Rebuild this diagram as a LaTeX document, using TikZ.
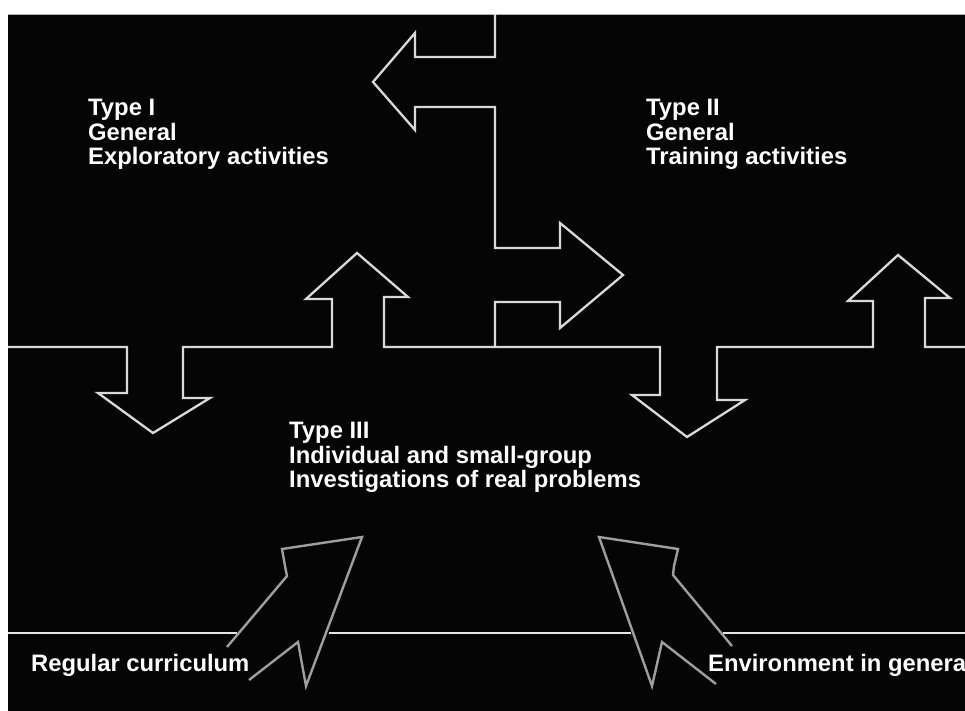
\documentclass[tikz,border=0pt]{standalone}
\usepackage{fontspec}
\setmainfont{Liberation Sans}
\begin{document}
\begin{tikzpicture}[x=1pt,y=-1pt,
  outline/.style={draw=black!15, line width=2.3pt, line join=miter},
  cursor/.style={draw=black!38, line width=2.4pt, line join=miter},
  rule/.style={draw=black!10, line width=1.8pt},
  label/.style={text=white, font=\bfseries\fontsize{23.8}{24.6}\selectfont,
                align=left, inner sep=0pt}]
  \useasboundingbox (0,0) rectangle (965,711);
  \clip (0,0) rectangle (965,711);
  % paper and dark panel
  \fill[white] (0,0) rectangle (965,711);
  \fill[black!98] (8,14) rectangle (965,711);
  \draw[black!30, line width=1.2pt] (8,14.5) -- (965,14.5);

  % dividing line with the four vertical block arrows
  \draw[outline] (8,347) -- (127,347) -- (127,393) -- (98,393) -- (153,433)
    -- (210,398) -- (183,398) -- (183,347) -- (332,347) -- (332,299)
    -- (306,299) -- (357,253) -- (408,297) -- (384,297) -- (384,347)
    -- (660,347) -- (660,395) -- (632,395) -- (687,437) -- (745,400)
    -- (717,400) -- (717,347) -- (873,347) -- (873,301) -- (848,301)
    -- (898,255) -- (950,298) -- (925,298) -- (925,347) -- (965,347);

  % central stem with the left and right block arrows
  \draw[outline] (495,14) -- (495,57) -- (415,57) -- (415,33) -- (373,82)
    -- (415,130) -- (415,107) -- (495,107) -- (495,248) -- (560,248)
    -- (560,223) -- (623,275) -- (560,328) -- (560,302) -- (495,302)
    -- (495,347);

  % lower rule, interrupted by the two grey arrows
  \draw[rule] (8,633) -- (237,633);
  \draw[rule] (329,633) -- (631,633);
  \draw[rule] (723,633) -- (965,633);

  % grey arrows rising towards Type III
  \draw[cursor] (227,647) -- (287,576) -- (285,566) -- (282,549) -- (362,537)
    -- (306,686) -- (298,642) -- (249,680);
  \draw[cursor] (732,646) -- (673,575) -- (674,566) -- (678,549) -- (599,537)
    -- (652,686) -- (662,642) -- (716,684);

  % labels
  \node[label, anchor=north west] (t1) at (88,99)
    {Type I\\General\\Exploratory activities};
  \node[label, anchor=north west] (t2) at (646,99)
    {Type II\\General\\Training activities};
  \node[label, anchor=north west] (t3) at (289,422)
    {Type III\\Individual and small-group\\Investigations of real problems};
  \node[label, anchor=base west] (reg) at (31,671) {Regular curriculum};
  \node[label, anchor=base west] (env) at (708,671) {Environment in genera};
\end{tikzpicture}
\end{document}
